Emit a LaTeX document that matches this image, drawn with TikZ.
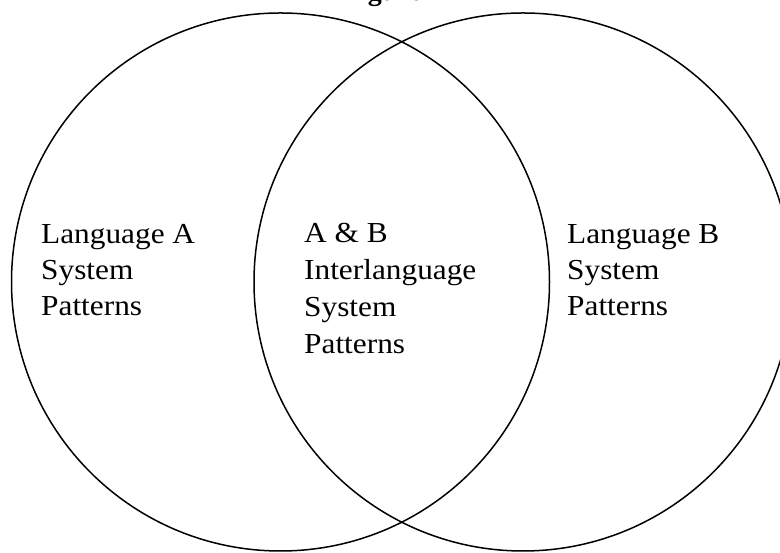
\documentclass[tikz,border=0pt]{standalone}
\usepackage{fontspec}
\setmainfont{Liberation Serif}
\newfontfamily\figfont[FakeStretch=1.08]{Liberation Serif}
\begin{document}
\begin{tikzpicture}[x=1pt,y=1pt,
  ring/.style={draw=black,line width=1.5pt},
  label/.style={anchor=north west,inner sep=0pt,align=left,
    font=\figfont\fontsize{29}{36}\selectfont},
  midlabel/.style={label,font=\figfont\fontsize{29}{37}\selectfont}]
\useasboundingbox (0,0) rectangle (780,553);
\clip (0,0) rectangle (780,553);
\fill[white] (0,0) rectangle (780,553);
\node[anchor=base,inner sep=0pt,font=\fontsize{28}{30}\selectfont\bfseries] (title) at (393,552) {Figure 1};
\draw[ring] (280.5,271) circle[radius=269] coordinate (A);
\draw[ring] (523,271) circle[radius=269] coordinate (B);
\node[label] (la) at (41,329) {Language A\\System\\Patterns};
\node[midlabel] (lab) at (304,330) {A \& B\\Interlanguage\\System\\Patterns};
\node[label] (lb) at (567,329) {Language B\\System\\Patterns};
\end{tikzpicture}
\end{document}
